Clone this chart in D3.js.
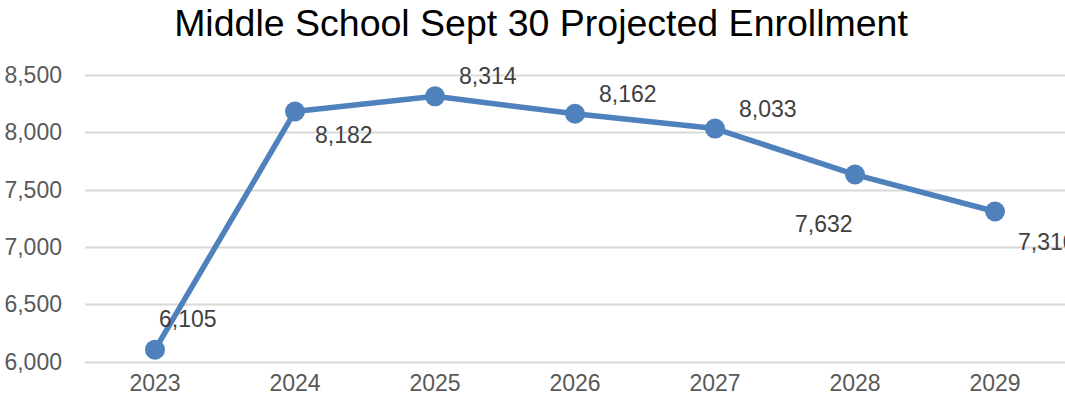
<!DOCTYPE html>
<html>
<head>
<meta charset="utf-8">
<script src="https://cdn.jsdelivr.net/npm/d3@7"></script>
<style>
  body { margin: 0; background: #fff; }
  svg text { font-family: "Liberation Sans", Arial, sans-serif; }
</style>
</head>
<body>
<div id="chart"></div>
<script>
// Middle school projected enrollment - single line with value labels
const years = ["2023", "2024", "2025", "2026", "2027", "2028", "2029"];
const enrollment = [6105, 8182, 8314, 8162, 8033, 7632, 7310];
const yTicks = [6000, 6500, 7000, 7500, 8000, 8500];
const labelSpots = ["above", "below", "right", "right", "right", "belowLeft", "belowRight"];

const W = 1065, H = 402;
const margin = { top: 75, right: 0, bottom: 40, left: 85 };

const svg = d3.select("#chart")
    .append("svg")
    .attr("width", W)
    .attr("height", H);

svg.append("text")
    .attr("x", 541)
    .attr("y", 36)
    .attr("text-anchor", "middle")
    .attr("font-size", 37.5)
    .attr("fill", "#000")
    .text("Middle School Sept 30 Projected Enrollment");

const x = d3.scaleBand()
    .domain(years)
    .range([margin.left, W - margin.right]);

const y = d3.scaleLinear()
    .domain([6000, 8500])
    .range([361.7, margin.top]);

// grid
svg.append("g")
    .selectAll("line")
    .data(yTicks)
    .enter()
    .append("line")
    .attr("x1", margin.left)
    .attr("x2", W)
    .attr("y1", d => Math.round(y(d)) + 0.5)
    .attr("y2", d => Math.round(y(d)) + 0.5)
    .attr("stroke", "#d9d9d9")
    .attr("stroke-width", 2);

// y axis labels
const yAxis = svg.append("g")
    .attr("transform", "translate(62,0)")
    .call(d3.axisLeft(y).tickValues(yTicks).tickSize(0).tickPadding(0).tickFormat(d3.format(",")));
yAxis.select(".domain").remove();
yAxis.selectAll("text")
    .attr("font-size", 23)
    .attr("fill", "#595959")
    .attr("font-family", "Liberation Sans, Arial, sans-serif");

// x axis labels
const xAxis = svg.append("g")
    .attr("transform", "translate(0,375)")
    .call(d3.axisBottom(x).tickSize(0).tickPadding(0));
xAxis.select(".domain").remove();
xAxis.selectAll("text")
    .attr("font-size", 23)
    .attr("fill", "#595959")
    .attr("font-family", "Liberation Sans, Arial, sans-serif");

const pts = years.map((yr, i) => ({ year: yr, value: enrollment[i], spot: labelSpots[i] }));
const cx = d => x(d.year) + x.bandwidth() / 2;

const line = d3.line()
    .x(cx)
    .y(d => y(d.value));

svg.append("path")
    .datum(pts)
    .attr("d", line)
    .attr("fill", "none")
    .attr("stroke", "#4f81bd")
    .attr("stroke-width", 5.5)
    .attr("stroke-linejoin", "round");

svg.selectAll(".dot")
    .data(pts)
    .enter()
    .append("circle")
    .attr("class", "dot")
    .attr("cx", cx)
    .attr("cy", d => y(d.value))
    .attr("r", 10)
    .attr("fill", "#4f81bd");

// label offsets relative to the point
const offsets = {
    above: [4, -23],
    below: [20, 32],
    right: [24, -12],
    belowLeft: [-60, 57],
    belowRight: [23, 39]
};

svg.selectAll(".val")
    .data(pts)
    .enter()
    .append("text")
    .attr("class", "val")
    .attr("x", d => cx(d) + offsets[d.spot][0])
    .attr("y", d => y(d.value) + offsets[d.spot][1])
    .attr("font-size", 23)
    .attr("fill", "#404040")
    .text(d => d3.format(",")(d.value));
</script>
</body>
</html>
